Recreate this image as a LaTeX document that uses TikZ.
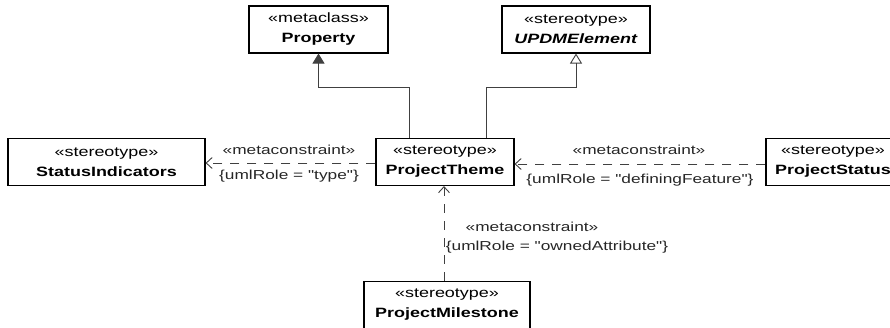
\documentclass[tikz,border=0pt]{standalone}
\usepackage{fontspec}
\setmainfont[FakeStretch=1.33, Ligatures=TeXOff]{Liberation Sans}
\usepackage{tikz}
\usetikzlibrary{arrows.meta,positioning}
\definecolor{umlline}{HTML}{404040}
\tikzset{
  umlp/.style={x=1pt, y=-1pt, font=\fontsize{13.5}{20}\selectfont},
  m box/.style={draw=black, line width=1.1pt, fill=white, align=center, minimum height=47pt, inner sep=2pt},
  m gen/.style={draw=umlline, line width=0.9pt, -{Triangle[length=10pt, width=12pt]}},
  m ext/.style={draw=umlline, line width=0.9pt, -{Triangle[open, length=10pt, width=12pt]}},
  m dep/.style={draw=umlline, line width=0.9pt, dash pattern=on 9pt off 8pt,
                -{Straight Barb[length=6pt, width=11pt]}},
  m lab/.style={font=\fontsize{13}{16}\selectfont, text=black!85, inner sep=0pt},
}
\newcommand{\umlbox}[5]{%
  \node[m box, minimum width=#3pt] (#1) at (#2) {«stereotype»\\\textbf{#4}#5};}

\begin{document}
\begin{tikzpicture}[umlp]
\useasboundingbox (0,0) rectangle (890,327);
% ---- metaclass + abstract stereotype ----
\node[m box, minimum width=139pt] (prop) at (318.5,29.5) {«metaclass»\\\textbf{Property}};
\node[m box, minimum width=148pt] (updm) at (576,29.5) {«stereotype»\\\textbf{\itshape UPDMElement}};
% ---- stereotypes ----
\umlbox{stat}{106.5,162}{197}{StatusIndicators}{}
\umlbox{theme}{445,162}{138}{ProjectTheme}{}
\umlbox{pstat}{833,162}{134}{ProjectStatus}{}
\umlbox{mile}{447,305}{166}{ProjectMilestone}{}
% ---- generalizations ----
\draw[m gen] ([xshift=34pt]theme.north west) -- ++(0,-51) -| (prop.south);
\draw[m ext] ([xshift=-28pt]theme.north east) -- ++(0,-51) -| (updm.south);
% ---- metaconstraints ----
\draw[m dep] ([yshift=-1pt]theme.west) -- ([yshift=-1pt]stat.east);
\node[m lab] (l1) at (289,150) {«metaconstraint»};
\node[m lab] (l1b) at (289,176) {\{umlRole = "type"\}};
\draw[m dep] ([yshift=-2pt]pstat.west) -- ([yshift=-2pt]theme.east);
\node[m lab] (l2) at (639,150) {«metaconstraint»};
\node[m lab] (l2b) at (640,180) {\{umlRole = "definingFeature"\}};
\draw[m dep] ([xshift=-3pt]mile.north) -- ([xshift=-1pt]theme.south);
\node[m lab] (l3) at (532,227) {«metaconstraint»};
\node[m lab] (l3b) at (557,247) {\{umlRole = "ownedAttribute"\}};
\end{tikzpicture}
\end{document}
